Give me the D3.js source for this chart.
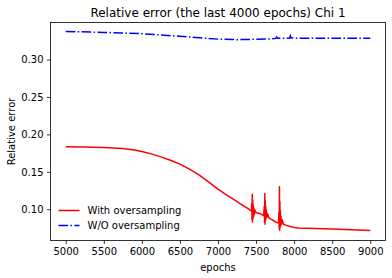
<!DOCTYPE html>
<html>
<head>
<meta charset="utf-8">
<script src="https://cdn.jsdelivr.net/npm/d3@7"></script>
<style>
  body { margin: 0; background: #fff; }
  text { font-family: "DejaVu Sans", sans-serif; fill: #000; }
</style>
</head>
<body>
<div id="chart"></div>
<script>
// Data
var redEpochs = [5000, 5250, 5500, 5750, 5900, 6000, 6125, 6250, 6375, 6500, 6625, 6750, 6875, 7000, 7100, 7200, 7300, 7400,
    7440, 7444, 7447, 7450, 7453, 7456, 7459, 7462, 7466, 7470, 7476, 7484, 7500, 7550,
    7600, 7608, 7612, 7615, 7618, 7621, 7624, 7627, 7631, 7635, 7641, 7650, 7670, 7700, 7760,
    7795, 7800, 7804, 7807, 7810, 7813, 7816, 7819, 7823, 7827, 7833, 7842, 7860, 7900, 7950,
    8000, 8050, 8500, 9000];
var redValues = [0.1835, 0.1832, 0.1826, 0.1810, 0.1790, 0.1772, 0.1740, 0.1700, 0.1655, 0.1603, 0.1535, 0.1460, 0.1365, 0.1270, 0.1200, 0.1135, 0.1070, 0.1005,
    0.0975, 0.108, 0.086, 0.120, 0.083, 0.112, 0.087, 0.106, 0.090, 0.102, 0.093, 0.099, 0.0955, 0.0945,
    0.0915, 0.104, 0.083, 0.121, 0.080, 0.111, 0.085, 0.104, 0.088, 0.099, 0.089, 0.094, 0.0885, 0.0865, 0.0830,
    0.0815, 0.096, 0.074, 0.130, 0.072, 0.110, 0.076, 0.098, 0.078, 0.091, 0.080, 0.086, 0.0800, 0.0785, 0.0770,
    0.0758, 0.0750, 0.0735, 0.0718];

var blueEpochs = [5000, 5500, 6000, 6500, 7000, 7250, 7500, 7700, 7760, 7770, 7780, 7940, 7950, 7960, 8000, 8500, 9000];
var blueValues = [0.3375, 0.3362, 0.3345, 0.3310, 0.3272, 0.3265, 0.3270, 0.3275, 0.3282, 0.3300, 0.3285, 0.3285, 0.3315, 0.3290, 0.3285, 0.3285, 0.3285];

var xTicks = [5000, 5500, 6000, 6500, 7000, 7500, 8000, 8500, 9000];
var yTicks = [0.10, 0.15, 0.20, 0.25, 0.30];
var legendLabels = ["With oversampling", "W/O oversampling"];

var margin = {top: 22.5, right: 6.5, bottom: 37.5, left: 50.5};
var width = 392 - margin.left - margin.right,
    height = 278 - margin.top - margin.bottom;

var svg = d3.select("#chart").append("svg")
    .attr("width", 392)
    .attr("height", 278);

var g = svg.append("g")
    .attr("transform", "translate(" + margin.left + "," + margin.top + ")");

var x = d3.scaleLinear().domain([4800, 9200]).range([0, width]);
var y = d3.scaleLinear().domain([0.0583, 0.3494]).range([height, 0]);

// Axes
var xAxis = d3.axisBottom(x).tickValues(xTicks).tickSize(3.5).tickPadding(3.5).tickFormat(d3.format("d"));
var yAxis = d3.axisLeft(y).tickValues(yTicks).tickSize(3.5).tickPadding(3.5).tickFormat(d3.format(".2f"));

g.append("g").attr("transform", "translate(0," + height + ")").call(xAxis);
g.append("g").call(yAxis);
g.selectAll(".domain").remove();
g.selectAll(".tick line").attr("stroke", "#000").attr("stroke-width", 0.8);
g.selectAll(".tick text").style("font-size", "10px").style("font-family", "DejaVu Sans");

// Lines
var line = d3.line()
    .x(function (d) { return x(d[0]); })
    .y(function (d) { return y(d[1]); });

var redData = redEpochs.map(function (e, i) { return [e, redValues[i]]; });
var blueData = blueEpochs.map(function (e, i) { return [e, blueValues[i]]; });

g.append("path")
    .datum(redData)
    .attr("d", line)
    .attr("fill", "none")
    .attr("stroke", "#ff0000")
    .attr("stroke-width", 1.5)
    .attr("stroke-linejoin", "round");

g.append("path")
    .datum(blueData)
    .attr("d", line)
    .attr("fill", "none")
    .attr("stroke", "#0000ff")
    .attr("stroke-width", 1.5)
    .attr("stroke-dasharray", "9.6,2.4,1.5,2.4");

// Frame
g.append("rect")
    .attr("width", width)
    .attr("height", height)
    .attr("fill", "none")
    .attr("stroke", "#000")
    .attr("stroke-width", 0.8);

// Title and labels
svg.append("text")
    .attr("x", margin.left + width / 2)
    .attr("y", 17)
    .attr("text-anchor", "middle")
    .style("font-size", "12px")
    .text("Relative error (the last 4000 epochs) Chi 1");

svg.append("text")
    .attr("x", margin.left + width / 2)
    .attr("y", 271)
    .attr("text-anchor", "middle")
    .style("font-size", "10px")
    .text("epochs");

svg.append("text")
    .attr("transform", "translate(15," + (margin.top + height / 2) + ") rotate(-90)")
    .attr("text-anchor", "middle")
    .style("font-size", "10px")
    .text("Relative error");

// Legend
var legend = g.selectAll(".legend")
    .data(legendLabels)
    .enter().append("g")
    .attr("class", "legend")
    .attr("transform", function (d, i) { return "translate(8," + (188 + i * 15) + ")"; });

legend.append("line")
    .attr("x1", 0).attr("x2", 21)
    .attr("stroke", function (d, i) { return i == 0 ? "#ff0000" : "#0000ff"; })
    .attr("stroke-width", 1.5)
    .attr("stroke-dasharray", function (d, i) { return i == 0 ? null : "9.6,2.4,1.5,2.4"; });

legend.append("text")
    .attr("x", 29)
    .attr("dy", "0.35em")
    .style("font-size", "10px")
    .text(function (d) { return d; });
</script>
</body>
</html>
